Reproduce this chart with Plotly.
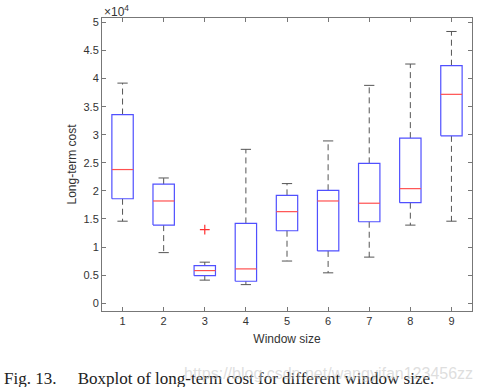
import plotly.graph_objects as go

# Data (values in units of 10^4)
categories = [1, 2, 3, 4, 5, 6, 7, 8, 9]
lower_whisker = [1.46, 0.90, 0.41, 0.33, 0.75, 0.54, 0.82, 1.39, 1.46]
q1 = [1.86, 1.39, 0.49, 0.39, 1.29, 0.93, 1.45, 1.79, 2.98]
median = [2.38, 1.82, 0.58, 0.61, 1.63, 1.82, 1.78, 2.04, 3.72]
q3 = [3.36, 2.12, 0.67, 1.42, 1.92, 2.01, 2.49, 2.94, 4.23]
upper_whisker = [3.92, 2.23, 0.73, 2.74, 2.13, 2.89, 3.88, 4.26, 4.84]
outlier_x = [3]
outlier_y = [1.31]
ytick_vals = [0, 0.5, 1, 1.5, 2, 2.5, 3, 3.5, 4, 4.5, 5]
ytick_text = ["0", "0.5", "1", "1.5", "2", "2.5", "3", "3.5", "4", "4.5", "5"]

BOX_HALF = 0.26
CAP_HALF = 0.125

box_x, box_y = [], []
med_x, med_y = [], []
wh_x, wh_y = [], []
cap_x, cap_y = [], []
for c, lw, a, m, b, uw in zip(categories, lower_whisker, q1, median, q3, upper_whisker):
    box_x += [c - BOX_HALF, c + BOX_HALF, c + BOX_HALF, c - BOX_HALF, c - BOX_HALF, None]
    box_y += [a, a, b, b, a, None]
    med_x += [c - BOX_HALF, c + BOX_HALF, None]
    med_y += [m, m, None]
    wh_x += [c, c, None, c, c, None]
    wh_y += [b, uw, None, a, lw, None]
    cap_x += [c - CAP_HALF, c + CAP_HALF, None, c - CAP_HALF, c + CAP_HALF, None]
    cap_y += [uw, uw, None, lw, lw, None]

fig = go.Figure()
fig.add_trace(go.Scatter(x=wh_x, y=wh_y, mode="lines",
                         line=dict(color="#555555", width=1, dash="6px,4px"),
                         hoverinfo="skip"))
fig.add_trace(go.Scatter(x=cap_x, y=cap_y, mode="lines",
                         line=dict(color="#555555", width=1), hoverinfo="skip"))
fig.add_trace(go.Scatter(x=box_x, y=box_y, mode="lines",
                         line=dict(color="#5050ff", width=1.2), hoverinfo="skip"))
fig.add_trace(go.Scatter(x=med_x, y=med_y, mode="lines",
                         line=dict(color="#ff5050", width=1.2), hoverinfo="skip"))
fig.add_trace(go.Scatter(x=outlier_x, y=outlier_y, mode="markers",
                         marker=dict(symbol="cross-thin", size=7,
                                     line=dict(color="#ff3030", width=1.2)),
                         hoverinfo="skip"))

SANS = "Liberation Sans, Arial, sans-serif"
axis_font = dict(family=SANS, size=11, color="#333333")

fig.update_layout(
    width=480, height=387,
    margin=dict(l=102, r=8, t=18, b=76),
    paper_bgcolor="white", plot_bgcolor="white",
    showlegend=False,
    xaxis=dict(range=[0.5, 9.5], tickvals=categories,
               ticktext=[str(c) for c in categories],
               showgrid=False, zeroline=False, showline=True, mirror="ticks",
               linecolor="#777777", linewidth=1, ticks="inside", ticklen=4,
               tickcolor="#777777", tickfont=axis_font,
               title=dict(text="Window size", font=dict(family=SANS, size=12, color="#333333"),
                          standoff=8)),
    yaxis=dict(range=[-0.14, 5.08], tickvals=ytick_vals, ticktext=ytick_text,
               showgrid=False, zeroline=False, showline=True, mirror="ticks",
               linecolor="#777777", linewidth=1, ticks="inside", ticklen=4,
               tickcolor="#777777", tickfont=axis_font,
               title=dict(text="Long-term cost", font=dict(family=SANS, size=12, color="#333333"),
                          standoff=4)),
)

fig.add_annotation(xref="paper", yref="paper", x=0.0, y=1.0, xanchor="left", yanchor="bottom",
                   text="×10<sup>4</sup>", showarrow=False, yshift=-3,
                   font=dict(family=SANS, size=12, color="#333333"))

# caption
fig.add_annotation(xref="paper", yref="paper", x=0, y=0, xanchor="left", yanchor="middle",
                   text="Fig. 13.     Boxplot of long-term cost for different window size.",
                   showarrow=False, xshift=-100, yshift=-67,
                   font=dict(family="Liberation Serif, Times New Roman, serif", size=17,
                             color="#222222"))

# watermark (drawn over the caption)
fig.add_annotation(xref="paper", yref="paper", x=0, y=0, xanchor="left", yanchor="middle",
                   text="https://blog.csdn.net/wangyifan123456zz", showarrow=False,
                   xshift=80, yshift=-62,
                   font=dict(family=SANS, size=16, color="rgba(200,200,200,0.6)"))

fig.write_html("out.html", config={"displayModeBar": False},
               post_script="document.body.style.margin='0';document.body.style.overflow='hidden';")
